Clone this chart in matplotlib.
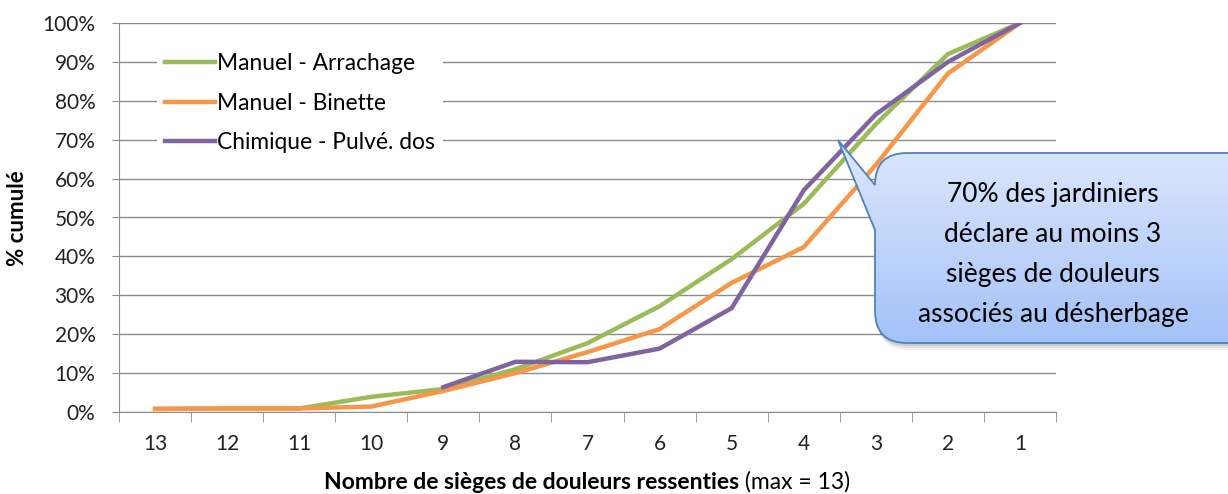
import matplotlib
matplotlib.use("Agg")
import matplotlib.pyplot as plt
import numpy as np
from matplotlib.path import Path
from matplotlib.patches import PathPatch

# data (cumulative %)
categories = ["13", "12", "11", "10", "9", "8", "7", "6", "5", "4", "3", "2", "1"]
arrachage = [0.8, 0.9, 0.9, 3.9, 5.9, 11.0, 17.7, 27.2, 39.3, 53.5, 74.0, 92.0, 100.0]
binette = [0.8, 0.9, 0.9, 1.4, 5.4, 10.0, 15.4, 21.3, 33.2, 42.4, 63.5, 87.0, 100.0]
pulve = [np.nan, np.nan, np.nan, np.nan, 6.4, 12.9, 12.8, 16.3, 26.7, 57.0, 76.5, 90.0, 100.0]
series_names = ["Manuel - Arrachage", "Manuel - Binette", "Chimique - Pulvé. dos"]
series_colors = ["#9BBB59", "#F79646", "#8064A2"]
callout_lines = ["70% des jardiniers", "déclare au moins 3",
                 "sièges de douleurs", "associés au désherbage"]

plt.rcParams['font.family'] = ['Lato', 'DejaVu Sans']

W, H = 1228, 494
fig = plt.figure(figsize=(W / 100, H / 100), dpi=100)
ax = fig.add_axes([119 / W, 1 - 412 / H, (1056 - 119) / W, (412 - 23) / H])

x = np.arange(len(categories))
for vals, name, col in zip([arrachage, binette, pulve], series_names, series_colors):
    ax.plot(x, vals, color=col, lw=3.2, label=name, solid_joinstyle='miter')

ax.set_xlim(-0.5, len(categories) - 0.5)
ax.set_ylim(0, 100)
ax.set_yticks(np.arange(0, 101, 10))
ax.set_yticklabels([f"{v}%" for v in range(0, 101, 10)])
ax.set_xticks(x)
ax.set_xticklabels(categories)
ax.set_xticks(np.arange(-0.5, len(categories)), minor=True)
ax.tick_params(axis='x', which='major', length=0, pad=16, labelsize=15, colors='#222222')
ax.tick_params(axis='x', which='minor', length=7, color='#8c8c8c')
ax.tick_params(axis='y', length=5, color='#8c8c8c', pad=12, labelsize=15, labelcolor='#222222')
ax.grid(axis='y', color='#8c8c8c', lw=1)
ax.set_axisbelow(True)
for s in ['top', 'right']:
    ax.spines[s].set_visible(False)
for s in ['left', 'bottom']:
    ax.spines[s].set_color('#8c8c8c')

leg = ax.legend(loc='upper left', bbox_to_anchor=(0.028, 0.973), frameon=True,
                fancybox=False, edgecolor='none', framealpha=1, fontsize=16.4,
                handlelength=2.2, handletextpad=0.12, labelspacing=0.82,
                borderpad=0.35)

fig.text(18 / W, 1 - 218 / H, "% cumulé", rotation=90, ha='center', va='center',
         fontsize=16, fontweight='bold')

# x label: bold part + normal part, centred together
t1 = fig.text(0, 1 - 482 / H, "Nombre de sièges de douleurs ressenties", fontsize=16.5,
              fontweight='bold', ha='left', va='center')
t2 = fig.text(0, 1 - 482 / H, " (max = 13)", fontsize=16.5, ha='left', va='center')
fig.canvas.draw()
r = fig.canvas.get_renderer()
w1 = t1.get_window_extent(r).width
w2 = t2.get_window_extent(r).width
start = 587 - (w1 + w2) / 2
t1.set_x(start / W)
t2.set_x((start + w1) / W)

# callout bubble, drawn in pixel coords on an overlay axes
ov = fig.add_axes([0, 0, 1, 1])
ov.set_xlim(0, W)
ov.set_ylim(H, 0)
ov.axis('off')

bx0, by0, bx1, by1, rad = 875, 153, 1245, 343, 32
tip = (838, 140)
verts = [(bx0 + rad, by0), (bx1, by0), (bx1, by1), (bx0 + rad, by1),
         (bx0, by1), (bx0, by1 - rad), (bx0, 230), tip, (bx0, by0 + rad),
         (bx0, by0), (bx0 + rad, by0), (bx0 + rad, by0)]
codes = [Path.MOVETO, Path.LINETO, Path.LINETO, Path.LINETO,
         Path.CURVE3, Path.CURVE3, Path.LINETO, Path.LINETO, Path.LINETO,
         Path.CURVE3, Path.CURVE3, Path.CLOSEPOLY]
bubble = Path(verts, codes)

# soft shadow
for off, a in [(7, 0.05), (5, 0.07), (3, 0.09)]:
    sv = [(vx + off * 0.3, vy + off) for vx, vy in verts]
    ov.add_patch(PathPatch(Path(sv, codes), facecolor='#000000', edgecolor='none',
                           alpha=a, zorder=1))

fill = PathPatch(bubble, facecolor='white', edgecolor='none', zorder=2)
ov.add_patch(fill)
grad = np.linspace(0, 1, 256)[:, None]
top_c = np.array([0.87, 0.91, 0.99])
bot_c = np.array([0.64, 0.76, 0.97])
img = top_c[None, None, :] * (1 - grad[:, :, None]) + bot_c[None, None, :] * grad[:, :, None]
im = ov.imshow(img, extent=(tip[0], bx1, by1, tip[1]), aspect='auto',
               interpolation='bilinear', zorder=3)
im.set_clip_path(fill)
ov.add_patch(PathPatch(bubble, facecolor='none', edgecolor='#4F81BD', lw=1.3, zorder=4))

for i, line in enumerate(callout_lines):
    t = ov.text(1053, 194 + i * 40, line, ha='center', va='center', fontsize=19,
                color='black', zorder=5)
    t.set_clip_path(fill)

fig.savefig("out.png", dpi=100)
